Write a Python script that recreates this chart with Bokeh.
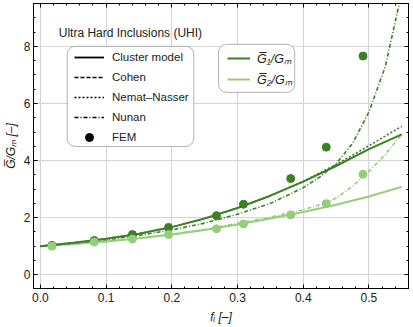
from bokeh.plotting import figure
from bokeh.models import (Legend, LegendItem, BoxAnnotation, Label, LinearAxis,
                          SingleIntervalTicker, PrintfTickFormatter, Range1d,
                          CustomJSTickFormatter)
from bokeh.embed import file_html
from bokeh.resources import INLINE

# ---- data ----
f_curve = [0.0, 0.05, 0.1, 0.15, 0.2, 0.25, 0.3, 0.35, 0.4, 0.45, 0.5, 0.55]
g1_cluster = [1.0, 1.12, 1.26, 1.44, 1.67, 1.97, 2.34, 2.77, 3.26, 3.81, 4.40, 4.92]
g1_nemat = [1.0, 1.12, 1.26, 1.44, 1.67, 1.97, 2.34, 2.77, 3.27, 3.86, 4.52, 5.20]
g2_cluster = [1.0, 1.08, 1.17, 1.28, 1.41, 1.57, 1.76, 1.97, 2.20, 2.45, 2.74, 3.08]

f_steep = [0.0, 0.05, 0.1, 0.15, 0.2, 0.25, 0.3, 0.35, 0.4, 0.425, 0.45, 0.475, 0.5, 0.525, 0.55]
g1_nunan = [1.0, 1.11, 1.23, 1.38, 1.57, 1.81, 2.12, 2.50, 3.05, 3.42, 3.88, 4.60, 5.70, 7.30, 9.90]
g2_nunan = [1.0, 1.08, 1.17, 1.28, 1.42, 1.59, 1.80, 2.02, 2.28, 2.45, 2.68, 3.10, 3.62, 4.22, 4.92]

f_fem = [0.0175, 0.082, 0.14, 0.195, 0.268, 0.309, 0.381, 0.435, 0.491]
g1_fem = [1.03, 1.20, 1.41, 1.66, 2.07, 2.47, 3.37, 4.47, 7.66]
g2_fem = [1.00, 1.15, 1.25, 1.41, 1.61, 1.78, 2.10, 2.49, 3.52]

style_names = ["Cluster model", "Cohen", "Nemat\u2013Nasser", "Nunan", "FEM"]
series_names = ["G\u0305\u2081/G\u2098", "G\u0305\u2082/G\u2098"]

DARK = "#3d7f25"
LIGHT = "#95cd7c"
FONT = "Liberation Sans"
TXT = "#222222"
NAN = float("nan")

p = figure(width=413, height=327,
           x_range=Range1d(-0.0105, 0.5602), y_range=Range1d(-0.48, 9.5),
           output_backend="svg", toolbar_location=None,
           min_border_left=29, min_border_right=5, min_border_top=3, min_border_bottom=39,
           background_fill_color="white", border_fill_color="white")

p.outline_line_color = "black"
p.outline_line_width = 1

xax = p.xaxis[0]
yax = p.yaxis[0]
xax.ticker = SingleIntervalTicker(interval=0.1, num_minor_ticks=5)
yax.ticker = SingleIntervalTicker(interval=2, num_minor_ticks=4)
xax.formatter = PrintfTickFormatter(format="%.1f")
xax.axis_label = "f\u1d62 [\u2013]"
yax.axis_label = "G\u0305/G\u2098 [\u2013]"
for ax in (xax, yax):
    ax.axis_line_color = "black"
    ax.major_tick_in = 4
    ax.major_tick_out = 0
    ax.minor_tick_in = 2
    ax.minor_tick_out = 0
    ax.major_tick_line_color = "black"
    ax.minor_tick_line_color = "black"
    ax.major_label_text_font = FONT
    ax.major_label_text_font_size = "12px"
    ax.major_label_text_color = TXT
    ax.axis_label_text_font = FONT
    ax.axis_label_text_font_size = "12px"
    ax.axis_label_text_font_style = "italic"
    ax.axis_label_text_color = TXT
xax.major_label_standoff = 4
xax.axis_label_standoff = 5
yax.major_label_standoff = 3
yax.axis_label_standoff = 3

for loc, tk in (("above", SingleIntervalTicker(interval=0.1, num_minor_ticks=5)),
                ("right", SingleIntervalTicker(interval=2, num_minor_ticks=4))):
    ax = LinearAxis(ticker=tk, formatter=CustomJSTickFormatter(code="return ''"),
                    major_label_standoff=0,
                    major_tick_in=4, major_tick_out=0, minor_tick_in=2, minor_tick_out=0,
                    axis_line_color="black", major_tick_line_color="black",
                    minor_tick_line_color="black")
    p.add_layout(ax, loc)

p.xgrid.grid_line_color = "#d4d4d4"
p.ygrid.grid_line_color = "#d4d4d4"

# curves
p.line(f_steep, g2_nunan, line_color=LIGHT, line_width=1.6, line_dash="4 2 1 2")
r_light = p.line(f_curve, g2_cluster, line_color=LIGHT, line_width=2)
p.line(f_steep, g1_nunan, line_color=DARK, line_width=1.6, line_dash="4 2 1 2")
p.line(f_curve, g1_nemat, line_color=DARK, line_width=1.6, line_dash="2 2")
r_dark = p.line(f_curve, g1_cluster, line_color=DARK, line_width=2)

# FEM points
p.scatter(f_fem, g1_fem, size=8, color=DARK)
p.scatter(f_fem, g2_fem, size=8, color=LIGHT)

# style legend samples (black, no visible data)
s_solid = p.line([NAN, NAN], [NAN, NAN], line_color="black", line_width=1.8)
s_dash = p.line([NAN, NAN], [NAN, NAN], line_color="black", line_width=1.4, line_dash="4 2")
s_dot = p.line([NAN, NAN], [NAN, NAN], line_color="black", line_width=1.4, line_dash="2 2")
s_dd = p.line([NAN, NAN], [NAN, NAN], line_color="black", line_width=1.4, line_dash="4 2 1 2")
s_fem = p.scatter([NAN], [NAN], size=8, color="black")

p.add_layout(BoxAnnotation(left=0.0407, right=0.2334, top=8.0, bottom=4.495,
                           fill_color="white", fill_alpha=1, line_color="black",
                           line_width=1, border_radius=8))
p.add_layout(BoxAnnotation(left=0.2711, right=0.3870, top=8.07, bottom=6.388,
                           fill_color="white", fill_alpha=1, line_color="black",
                           line_width=1, border_radius=8))

leg1 = Legend(items=[LegendItem(label=n, renderers=[r]) for n, r in
                     zip(style_names, [s_solid, s_dash, s_dot, s_dd, s_fem])],
              location=(36, 136), glyph_width=30, glyph_height=20, label_height=20,
              label_standoff=8, padding=5, spacing=0, margin=0,
              border_line_alpha=0, background_fill_alpha=0,
              label_text_font=FONT, label_text_font_size="11.5px", label_text_color=TXT)
leg2 = Legend(items=[LegendItem(label=n, renderers=[r]) for n, r in
                     zip(series_names, [r_dark, r_light])],
              location=(190, 195), glyph_width=23, glyph_height=20, label_height=20,
              label_standoff=7, padding=4, spacing=1, margin=0,
              border_line_alpha=0, background_fill_alpha=0,
              label_text_font=FONT, label_text_font_size="12.5px",
              label_text_font_style="italic", label_text_color=TXT)
p.add_layout(leg1)
p.add_layout(leg2)

p.add_layout(Label(x=0.137, y=8.45, text="Ultra Hard Inclusions (UHI)",
                   text_font=FONT, text_font_size="12px", text_color=TXT,
                   text_align="center", text_baseline="middle"))

open("out.html", "w").write(file_html(p, INLINE))
